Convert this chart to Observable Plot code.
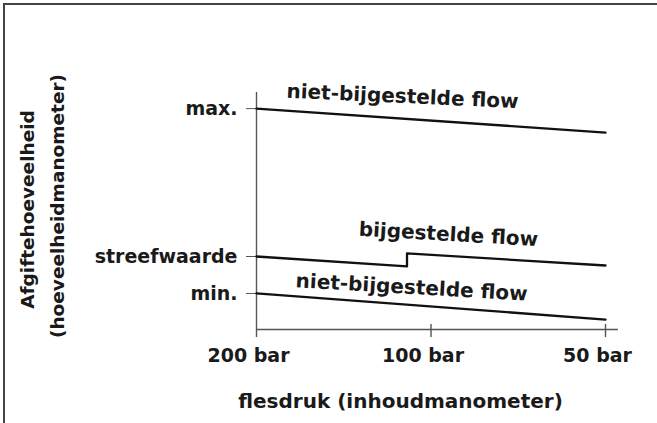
<!DOCTYPE html>
<html><head><meta charset="utf-8">
<script src="https://cdn.jsdelivr.net/npm/d3@7"></script>
<script src="https://cdn.jsdelivr.net/npm/@observablehq/plot@0.6"></script>
<style>
body{margin:0;background:#fff;}
#wrap{position:relative;width:657px;height:423px;overflow:hidden;}
#border{position:absolute;left:3px;top:3px;width:720px;height:520px;border-left:2px solid #444;border-top:2px solid #444;}
#chart{position:absolute;left:0;top:0;}
</style></head><body>
<div id="wrap"><div id="border"></div><div id="chart"></div></div>
<script>
// Data (arbitrary flow units, pressure in bar)
const pressureTicks = [200, 100, 50];
const pressureLabels = ["200 bar", "100 bar", "50 bar"];
const levelValues = [93.2, 30.8, 15.2];
const levelLabels = ["max.", "streefwaarde", "min."];
const highPressure = [200, 50];
const highFlow = [93.2, 83.1];
const adjustedPressure = [200, 110, 110, 50];
const adjustedFlow = [30.8, 26.6, 32.1, 27.0];
const lowPressure = [200, 50];
const lowFlow = [15.2, 4.2];
const seriesLabels = ["niet-bijgestelde flow", "bijgestelde flow", "niet-bijgestelde flow"];
const xTitle = "flesdruk (inhoudmanometer)";
const yTitle = ["Afgiftehoeveelheid", "(hoeveelheidmanometer)"];

const toRows = (ps, fs) => ps.map((p, i) => ({p, f: fs[i]}));
const high = toRows(highPressure, highFlow);
const adjusted = toRows(adjustedPressure, adjustedFlow);
const low = toRows(lowPressure, lowFlow);

// label anchors (annotation layout, data units)
const labelAnchors = [
  {text: seriesLabels[0], p: 112.0, f: 98.3, r: 2.6},
  {text: seriesLabels[1], p: 93.3, f: 40.1, r: 3.3},
  {text: seriesLabels[2], p: 108.0, f: 17.7, r: 3.3}
];

const axisColor = "#555";
const ink = "#1a1a1a";
const font = "DejaVu Sans";

const chart = Plot.plot({
  width: 657,
  height: 423,
  marginLeft: 256,
  marginRight: 52,
  marginTop: 92,
  marginBottom: 94,
  style: {fontFamily: font, fontWeight: "bold", background: "transparent", overflow: "visible"},
  x: {type: "log", domain: [200, 50], label: null},
  y: {domain: [0, 100], label: null},
  marks: [
    // axis lines
    Plot.ruleX([200], {y1: -3.4, y2: 100, stroke: axisColor, strokeWidth: 1.4}),
    Plot.ruleY([0], {x1: 200, x2: 47.5, stroke: axisColor, strokeWidth: 1.4}),
    Plot.ruleX([100, 50], {y1: -3.4, y2: 2.1, stroke: axisColor, strokeWidth: 1.4}),
    Plot.axisY({
      ticks: levelValues,
      tickFormat: d => levelLabels[levelValues.indexOf(d)],
      tickSize: 10, tickPadding: 9,
      stroke: axisColor, fill: ink,
      fontSize: 19, fontWeight: "bold", label: null
    }),
    Plot.axisX({
      ticks: pressureTicks,
      tickFormat: d => pressureLabels[pressureTicks.indexOf(d)],
      tickSize: 0, tickPadding: 19, dx: -8,
      fill: ink, fontSize: 19, fontWeight: "bold", label: null
    }),
    // data lines
    Plot.line(high, {x: "p", y: "f", stroke: "#111", strokeWidth: 2.3}),
    Plot.line(adjusted, {x: "p", y: "f", stroke: "#111", strokeWidth: 2.3}),
    Plot.line(low, {x: "p", y: "f", stroke: "#111", strokeWidth: 2.3}),
    // series labels
    Plot.text(labelAnchors, {x: "p", y: "f", text: "text", rotate: "r", fontSize: 20, fontWeight: "bold", fill: ink, lineAnchor: "middle"}),
    // axis titles
    Plot.text([xTitle], {frameAnchor: "bottom", dx: -30.5, dy: 78, lineAnchor: "bottom", fontSize: 20, fontWeight: "bold", fill: ink}),
    Plot.text([yTitle[0]], {frameAnchor: "left", textAnchor: "middle", lineAnchor: "middle", dx: -228, dy: -1.5, rotate: -90, fontSize: 18.5, fontWeight: "bold", fill: ink}),
    Plot.text([yTitle[1]], {frameAnchor: "left", textAnchor: "middle", lineAnchor: "middle", dx: -198.5, dy: -5, rotate: -90, fontSize: 18.5, fontWeight: "bold", fill: ink})
  ]
});
document.getElementById("chart").appendChild(chart);
</script>
</body></html>
